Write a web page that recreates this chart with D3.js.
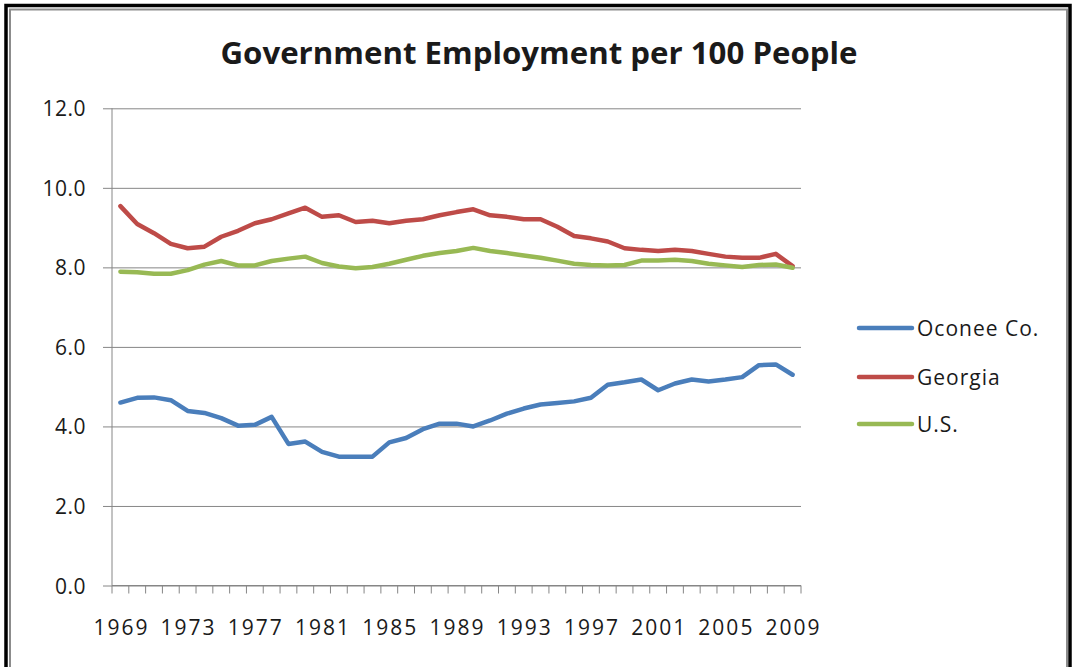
<!DOCTYPE html>
<html>
<head>
<meta charset="utf-8">
<script src="https://d3js.org/d3.v7.min.js"></script>
<style>
    body { margin: 0; background: #fff; }
    text { font-family: "Open Sans", sans-serif; fill: #1a1a1a; }
</style>
</head>
<body>
<script>
// data
var years = [1969, 1970, 1971, 1972, 1973, 1974, 1975, 1976, 1977, 1978,
    1979, 1980, 1981, 1982, 1983, 1984, 1985, 1986, 1987, 1988,
    1989, 1990, 1991, 1992, 1993, 1994, 1995, 1996, 1997, 1998,
    1999, 2000, 2001, 2002, 2003, 2004, 2005, 2006, 2007, 2008, 2009];

var oconee = [4.60, 4.72, 4.73, 4.66, 4.39, 4.34, 4.21, 4.02, 4.04, 4.24,
    3.56, 3.62, 3.36, 3.24, 3.24, 3.24, 3.60, 3.71, 3.93, 4.07,
    4.07, 4.00, 4.15, 4.32, 4.45, 4.55, 4.59, 4.63, 4.72, 5.05,
    5.11, 5.18, 4.91, 5.08, 5.18, 5.13, 5.18, 5.24, 5.54, 5.56, 5.30];

var georgia = [9.54, 9.09, 8.86, 8.59, 8.48, 8.52, 8.77, 8.92, 9.11, 9.21,
    9.36, 9.50, 9.27, 9.31, 9.14, 9.17, 9.11, 9.17, 9.21, 9.31,
    9.39, 9.46, 9.31, 9.27, 9.21, 9.21, 9.02, 8.79, 8.73, 8.65,
    8.48, 8.44, 8.41, 8.44, 8.41, 8.34, 8.27, 8.24, 8.24, 8.34, 8.03];

var us = [7.89, 7.88, 7.84, 7.84, 7.93, 8.07, 8.16, 8.05, 8.05, 8.16,
    8.22, 8.27, 8.11, 8.02, 7.98, 8.01, 8.09, 8.19, 8.29, 8.36,
    8.41, 8.49, 8.41, 8.36, 8.30, 8.24, 8.17, 8.09, 8.06, 8.05,
    8.06, 8.17, 8.17, 8.19, 8.16, 8.09, 8.05, 8.01, 8.06, 8.07, 7.99];

var seriesNames = ["Oconee Co.", "Georgia", "U.S."];
var yTicks = [0, 2, 4, 6, 8, 10, 12];
var xLabelYears = [1969, 1973, 1977, 1981, 1985, 1989, 1993, 1997, 2001, 2005, 2009];

var series = [
    { name: seriesNames[0], values: oconee, color: "#4a7ebb" },
    { name: seriesNames[1], values: georgia, color: "#be4b48" },
    { name: seriesNames[2], values: us, color: "#98b954" }
];

// dimensions
var width = 1073;
var height = 667;

var plot = { left: 112, right: 801, top: 108.3, bottom: 585.5 };

var svg = d3.select("body")
    .append("svg")
    .attr("width", width)
    .attr("height", height);

// frame round the chart
svg.append("path")
    .attr("d", "M6,672 L6,5.5 L1070,5.5 L1070,672")
    .attr("fill", "none")
    .attr("stroke", "#000")
    .attr("stroke-width", 3.5);

svg.append("path")
    .attr("d", "M10,672 L10,9.5 L1067,9.5 L1067,672")
    .attr("fill", "none")
    .attr("stroke", "#8c8c8c")
    .attr("stroke-width", 2);

var x = d3.scaleBand()
    .domain(years)
    .range([plot.left, plot.right])
    .padding(0);

var y = d3.scaleLinear()
    .domain([0, 12])
    .range([plot.bottom, plot.top]);

// gridlines + y axis
var yAxis = d3.axisLeft(y)
    .tickValues(yTicks)
    .tickFormat(d3.format(".1f"))
    .tickSize(-(plot.right - plot.left))
    .tickPadding(0);

var gy = svg.append("g")
    .attr("transform", "translate(" + plot.left + ",0)")
    .call(yAxis);

gy.select(".domain").remove();
gy.selectAll(".tick line")
    .attr("x1", -9)
    .attr("stroke", "#868686")
    .attr("stroke-width", 1);
gy.selectAll(".tick text")
    .attr("x", -26)
    .attr("dy", "0.36em")
    .style("font-size", "21px")
    .style("letter-spacing", "0.5px")
    .attr("fill", "#1a1a1a");

svg.append("line")
    .attr("x1", plot.left)
    .attr("x2", plot.left)
    .attr("y1", plot.top)
    .attr("y2", plot.bottom)
    .attr("stroke", "#868686");

// x axis: ticks between categories
var boundaries = years.map(function(d) { return x(d); }).concat([plot.right]);

svg.selectAll(".xtick")
    .data(boundaries)
    .enter()
    .append("line")
    .attr("class", "xtick")
    .attr("x1", function(d) { return d; })
    .attr("x2", function(d) { return d; })
    .attr("y1", plot.bottom)
    .attr("y2", plot.bottom + 8)
    .attr("stroke", "#868686");

svg.append("line")
    .attr("x1", plot.left)
    .attr("x2", plot.right)
    .attr("y1", plot.bottom)
    .attr("y2", plot.bottom)
    .attr("stroke", "#868686");

svg.selectAll(".xlabel")
    .data(xLabelYears)
    .enter()
    .append("text")
    .attr("class", "xlabel")
    .attr("x", function(d) { return x(d) + x.bandwidth() / 2 + 1; })
    .attr("y", 635)
    .attr("text-anchor", "middle")
    .style("font-size", "21px")
    .style("letter-spacing", "2px")
    .text(function(d) { return d; });

// lines
var line = d3.line()
    .x(function(d, i) { return x(years[i]) + x.bandwidth() / 2; })
    .y(function(d) { return y(d); });

svg.selectAll(".series")
    .data(series)
    .enter()
    .append("path")
    .attr("class", "series")
    .attr("d", function(d) { return line(d.values); })
    .attr("fill", "none")
    .attr("stroke", function(d) { return d.color; })
    .attr("stroke-width", 4.5)
    .attr("stroke-linejoin", "round")
    .attr("stroke-linecap", "round");

// title
svg.append("text")
    .attr("x", 539)
    .attr("y", 64)
    .attr("text-anchor", "middle")
    .attr("textLength", 637)
    .attr("lengthAdjust", "spacingAndGlyphs")
    .style("font-size", "30px")
    .style("font-weight", "bold")
    .attr("fill", "#000")
    .text("Government Employment per 100 People");

// legend
var legendY = [328, 377, 424];

var legend = svg.selectAll(".legend")
    .data(series)
    .enter()
    .append("g")
    .attr("class", "legend")
    .attr("transform", function(d, i) { return "translate(0," + legendY[i] + ")"; });

legend.append("line")
    .attr("x1", 859)
    .attr("x2", 912)
    .attr("stroke", function(d) { return d.color; })
    .attr("stroke-width", 4.5)
    .attr("stroke-linecap", "round");

legend.append("text")
    .attr("x", 917)
    .attr("dy", "0.36em")
    .style("font-size", "21px")
    .style("letter-spacing", "1px")
    .text(function(d) { return d.name; });
</script>
</body>
</html>
